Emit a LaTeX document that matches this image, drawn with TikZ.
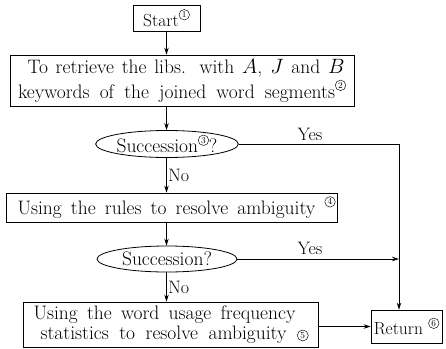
\documentclass[tikz,border=0pt]{standalone}
\usetikzlibrary{shapes.geometric,arrows.meta}
% small circled step number, set as a superscript-like mark
\newcommand{\cnum}[1]{\raisebox{0.5em}{\tikz[baseline=(n.base)]\node[circle,draw,line width=0.45pt,inner sep=0.3pt,minimum size=10.5pt,font=\fontsize{9}{9}\selectfont](n){#1};}}
\newcommand{\cnumflat}[1]{\raisebox{0.05em}{\tikz[baseline=(n.base)]\node[circle,draw,line width=0.45pt,inner sep=0.3pt,minimum size=11pt,font=\fontsize{9}{9}\selectfont](n){#1};}}
\begin{document}
\begin{tikzpicture}[x=1pt,y=-1pt,
  every node/.style={font=\fontsize{19.5}{23}\selectfont},
  procbox/.style={draw,line width=0.8pt,inner sep=0pt,align=center},
  decision/.style={draw,ellipse,line width=0.8pt,inner sep=0pt},
  flow/.style={line width=0.8pt},
  arr/.style={flow,-{Stealth[length=7pt,width=4.5pt]}},
  lbl/.style={inner sep=1.5pt,font=\fontsize{18}{20}\selectfont}]
\useasboundingbox (0,0) rectangle (446,348);
\fill[white] (0,0) rectangle (446,348);

\node[procbox,minimum width=67pt,minimum height=26pt,font=\fontsize{17.5}{20}\selectfont] (start) at (166.5,18) {Start\cnum{1}};
\node[procbox,minimum width=344pt,minimum height=51pt,font=\fontsize{19.5}{25}\selectfont] (retr) at (182,80.5)
  {\hspace*{8pt}\makebox[317pt][s]{To retrieve the libs. with $A$, $J$ and $B$}\\
   \makebox[328pt][s]{keywords of the joined word segments\cnum{2}}};
\node[decision,minimum width=140pt,minimum height=27pt] (succ1) at (167,144) {Succession\cnum{3}?};
\node[procbox,minimum width=331pt,minimum height=29pt] (rules) at (171.5,207.5)
  {\hspace*{10pt}\makebox[318pt][s]{Using the rules to resolve ambiguity \cnum{4}}};
\node[decision,minimum width=140pt,minimum height=26pt] (succ2) at (167,259) {Succession?};
\node[procbox,minimum width=295pt,minimum height=45pt,font=\fontsize{19.5}{20}\selectfont] (freq) at (170.5,324.5)
  {\makebox[262pt][s]{Using the word usage frequency}\hspace*{12pt}\\
   \hspace*{8pt}\makebox[268pt][s]{statistics to resolve ambiguity \cnumflat{5}}};
\node[procbox,minimum width=71pt,minimum height=33pt,font=\fontsize{17.5}{20}\selectfont] (ret) at (406.5,326.5) {Return \cnum{6}};

\coordinate (bend) at (399,144);

\draw[arr] (start.south) -- (start.south |- retr.north);
\draw[arr] (retr.south -| start.south) -- (start.south |- succ1.north);
\draw[arr] (succ1.south -| start.south) -- (start.south |- rules.north)
  node[lbl,midway,right] {No};
\draw[arr] (rules.south -| start.south) -- (start.south |- succ2.north);
\draw[arr] (succ2.south -| start.south) -- (start.south |- freq.north)
  node[lbl,midway,right] {No};
\draw[arr] (succ1.east) -- (bend) -- (bend |- ret.north);
\node[lbl] (yes1) at (310,134) {Yes};
\draw[arr] (succ2.east) -- (succ2.east -| bend);
\node[lbl] (yes2) at (310,248) {Yes};
\draw[arr] (ret.west -| freq.east) -- (ret.west);
\end{tikzpicture}
\end{document}
